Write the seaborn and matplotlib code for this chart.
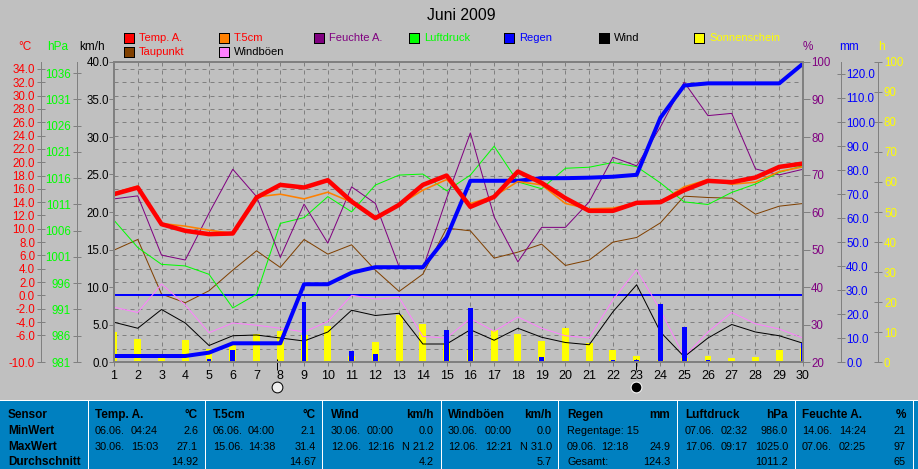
import matplotlib
matplotlib.use('Agg')
import matplotlib.pyplot as plt
import seaborn as sns
from matplotlib.patches import Rectangle

W, H = 918, 469

DAYS = list(range(1, 31))
TEMP = [15.2, 16.2, 10.7, 9.7, 9.2, 9.3, 14.7, 16.6, 16.2, 17.3, 14.1, 11.6, 13.6, 16.6, 18.0,
        13.3, 14.8, 18.6, 16.9, 14.6, 12.7, 12.7, 13.9, 14.0, 15.8, 17.2, 17.0, 17.7, 19.3, 19.8]
SOIL = [15.4, 16.4, 10.8, 10.4, 9.8, 9.3, 14.8, 15.2, 14.5, 15.5, 14.0, 11.8, 13.6, 15.8, 17.4,
        13.8, 14.9, 17.1, 16.6, 13.8, 13.0, 13.1, 13.9, 14.1, 16.3, 17.4, 16.7, 17.0, 18.6, 19.3]
DEWPOINT = [6.8, 8.4, 0.2, -1.1, 0.7, 3.8, 6.7, 4.2, 8.4, 6.2, 7.6, 3.8, 0.6, 3.2, 10.1,
            9.7, 5.6, 6.5, 7.7, 4.5, 5.3, 8.0, 8.7, 10.9, 14.9, 14.7, 14.6, 12.2, 13.4, 13.8]
HUMIDITY = [63.5, 64.3, 48.5, 47.2, 59.7, 71.4, 64.1, 47.9, 62.1, 51.7, 66.7, 62.3, 45.4, 44.9, 63.7,
            81.1, 58.7, 46.7, 55.9, 55.9, 62.7, 74.6, 72.3, 82.7, 94.6, 85.7, 86.3, 71.5, 69.9, 71.4]
PRESSURE = [1008.0, 1002.8, 999.6, 999.3, 997.7, 991.3, 993.9, 1007.4, 1008.5, 1012.5,
            1009.6, 1014.7, 1016.6, 1016.8, 1013.6, 1016.6, 1022.1, 1015.3, 1014.0, 1017.9,
            1018.1, 1019.0, 1018.2, 1015.1, 1011.5, 1011.0, 1013.3, 1014.9, 1017.1, 1018.4]
WIND = [5.3, 4.5, 7.0, 5.2, 2.2, 3.5, 3.6, 3.2, 2.8, 4.0, 6.9, 6.2, 6.5, 2.4, 2.4,
        4.3, 2.9, 4.5, 3.3, 2.6, 2.3, 6.7, 10.3, 4.0, 0.7, 3.2, 5.0, 4.0, 3.5, 2.5]
GUST = [7.3, 6.6, 10.4, 7.6, 3.9, 5.2, 4.9, 4.5, 4.0, 5.4, 8.9, 8.4, 8.6, 3.4, 3.2,
        5.8, 4.1, 6.0, 4.5, 3.5, 3.2, 8.3, 12.3, 6.9, 0.7, 4.0, 6.6, 5.1, 4.4, 3.2]
RAIN_SUM = [2.5, 2.5, 2.5, 2.5, 3.9, 7.8, 7.8, 7.8, 32.4, 32.4, 37.2, 39.5, 39.5, 39.5, 52.0,
            75.5, 75.5, 75.5, 76.6, 76.6, 76.8, 77.2, 78.0, 101.8, 115.2, 116.1, 116.1, 116.1, 116.1, 124.3]
RAIN_DAY = [0.3, 0, 0, 0, 1.2, 4.8, 0, 0, 25.0, 0, 4.5, 3.3, 0.3, 0.3, 13.5,
            22.4, 0.3, 0.3, 2.2, 0.3, 0.3, 1.0, 1.0, 24.0, 14.4, 1.0, 0, 0, 0, 8.0]
SUN = [10.1, 7.6, 1.6, 7.3, 4.2, 6.2, 9.3, 10.3, 9.0, 12.0, 2.0, 6.6, 15.7, 12.7, 6.3,
       4.0, 10.7, 9.3, 7.0, 11.2, 6.2, 4.0, 2.0, 0.7, 1.3, 2.0, 1.2, 1.6, 4.0, 4.7]
BLUE_LEVEL = 8.93  # the flat blue line, on the km/h scale
MOON_DAYS = [7.87, 22.95]

TEMP_TICKS = [-10, -6, -4, -2, 0, 2, 4, 6, 8, 10, 12, 14, 16, 18, 20, 22, 24, 26, 28, 30, 32, 34]
HPA_TICKS = [981, 986, 991, 996, 1001, 1006, 1011, 1016, 1021, 1026, 1031, 1036]
KMH_TICKS = [0, 5, 10, 15, 20, 25, 30, 35, 40]
PCT_TICKS = [20, 30, 40, 50, 60, 70, 80, 90, 100]
MM_TICKS = [0, 10, 20, 30, 40, 50, 60, 70, 80, 90, 100, 110, 120]
H_TICKS = [0, 10, 20, 30, 40, 50, 60, 70, 80, 90, 100]

LEGEND_LABELS = ['Temp. A.', 'T.5cm', 'Feuchte A.', 'Luftdruck', 'Regen', 'Wind', 'Sonnenschein', 'Taupunkt', 'Windböen']
LEGEND_FILL = ['#FF0000', '#FF8000', '#800080', '#00FF00', '#0000FF', '#000000', '#FFFF00', '#804000', '#FF80FF']
LEGEND_TEXT = ['#FF0000', '#FF0000', '#800080', '#00FF00', '#0000FF', '#000000', '#FFFF00', '#FF0000', '#000000']

TABLE_TITLES = ['Temp. A.', 'T.5cm', 'Wind', 'Windböen', 'Regen', 'Luftdruck', 'Feuchte A.']
TABLE_UNITS = ['°C', '°C', 'km/h', 'km/h', 'mm', 'hPa', '%']
MIN_DATES = ['06.06.', '06.06.', '30.06.', '30.06.', 'Regentage: 15', '07.06.', '14.06.']
MIN_TIMES = ['04:24', '04:00', '00:00', '00:00', '', '02:32', '14:24']
MIN_VALUES = ['2.6', '2.1', '0.0', '0.0', '', '986.0', '21']
MAX_DATES = ['30.06.', '15.06.', '12.06.', '12.06.', '09.06.', '17.06.', '07.06.']
MAX_TIMES = ['15:03', '14:38', '12:16', '12:21', '12:18', '09:17', '02:25']
MAX_VALUES = ['27.1', '31.4', 'N 21.2', 'N 31.0', '24.9', '1025.0', '97']
AVG_LABELS = ['', '', '', '', 'Gesamt:', '', '']
AVG_VALUES = ['14.92', '14.67', '4.2', '5.7', '124.3', '1011.2', '65']
ROW_NAMES = ['Sensor', 'MinWert', 'MaxWert', 'Durchschnitt']

BG = '#C0C0C0'
GREY = '#808080'
PX = 0.72  # one pixel in points at dpi 100

sns.set_theme(style='ticks', rc={'patch.antialiased': False})
plt.rcParams['font.family'] = ['Liberation Sans', 'DejaVu Sans']
plt.rcParams['font.size'] = 8


def fx(x):
    return x / W


def fy(y):
    return 1 - y / H


def scale_axis(a, ylim, ticks, labels, color, side, px_out, tick_len=8, tick_dir='inout', pad=2):
    a.set_ylim(*ylim)
    for s in a.spines.values():
        s.set_visible(False)
    a.yaxis.set_ticks_position(side)
    a.set_yticks(ticks, labels=labels)
    a.tick_params(axis='y', which='major', direction=tick_dir, length=tick_len * PX, width=PX,
                  color=GREY, labelcolor=color, labelsize=8.3, pad=pad * PX)
    if px_out is not None:
        a.spines[side].set_visible(True)
        a.spines[side].set_position(('outward', px_out * PX))
        a.spines[side].set_color(GREY)
        a.spines[side].set_linewidth(PX)


def hidden_axis(a, ylim):
    a.set_ylim(*ylim)
    a.yaxis.set_visible(False)
    for s in a.spines.values():
        s.set_visible(False)


def line(a, y, color, lw=1.0):
    sns.lineplot(x=DAYS, y=y, color=color, linewidth=lw * PX, errorbar=None, legend=False, ax=a)


fig = plt.figure(figsize=(W / 100, H / 100), dpi=100, facecolor=BG)
ax = fig.add_axes([fx(114), fy(362), fx(803 - 114), (362 - 62) / H], facecolor=BG)

TEMP_LIM = (-10, 35.05)
HPA_LIM = (981, 1038.14)
KMH_LIM = (0, 40)
PCT_LIM = (20, 100)
MM_LIM = (0, 125)
H_LIM = (0, 100)

# layers from bottom to top
ax_sun = ax.twinx()
ax_wind = ax.twinx()
ax_hpa = ax.twinx()
ax_pct = ax.twinx()
ax_mm = ax.twinx()
ax_top = ax.twinx()
for z, a in enumerate([ax, ax_sun, ax_wind, ax_hpa, ax_pct, ax_mm, ax_top]):
    a.set_zorder(z)

line(ax, DEWPOINT, '#804000')
sns.barplot(x=DAYS, y=SUN, native_scale=True, width=0.29, color='#FFFF00', saturation=1, linewidth=0, ax=ax_sun)
ax_wind.axhline(BLUE_LEVEL, color='#0000FF', linewidth=2 * PX)
line(ax_wind, GUST, '#FF80FF')
line(ax_wind, WIND, '#000000')
line(ax_hpa, PRESSURE, '#00FF00')
line(ax_pct, HUMIDITY, '#800080')
sns.barplot(x=DAYS, y=RAIN_DAY, native_scale=True, width=0.2, color='#0000FF', saturation=1, linewidth=0, ax=ax_mm)
line(ax_mm, RAIN_SUM, '#0000FF', lw=4)
line(ax_top, SOIL, '#FF8000', lw=1.6)
line(ax_top, TEMP, '#FF0000', lw=4.5)

ax.set_xlim(1, 30)
ax.set_xticks(DAYS, labels=[str(d) for d in DAYS])
ax.tick_params(axis='x', direction='out', length=4 * PX, width=PX, color=GREY, labelcolor='black', labelsize=9, pad=4 * PX)
ax.grid(True, axis='x', color=GREY, linewidth=PX, linestyle=(0, (4, 4)))
ax.grid(True, which='major', axis='y', color=GREY, linewidth=PX, linestyle=(0, (4, 4)))
ax.set_yticks(list(range(-10, 35, 2)), minor=True)
ax.grid(True, which='minor', axis='y', color=GREY, linewidth=PX, linestyle=(0, (4, 4)))
ax.tick_params(axis='y', which='minor', length=0)

scale_axis(ax, TEMP_LIM, TEMP_TICKS, [f'{v:.1f}' for v in TEMP_TICKS], '#FF0000', 'left', 73)
scale_axis(ax_hpa, HPA_LIM, HPA_TICKS, [str(v) for v in HPA_TICKS], '#00FF00', 'left', 37)
scale_axis(ax_wind, KMH_LIM, KMH_TICKS, [f'{v:.1f}' for v in KMH_TICKS], '#000000', 'left', None,
           tick_len=5, tick_dir='out', pad=0)
scale_axis(ax_pct, PCT_LIM, PCT_TICKS, [str(v) for v in PCT_TICKS], '#800080', 'right', None,
           tick_len=7, tick_dir='out', pad=1)
scale_axis(ax_mm, MM_LIM, MM_TICKS, [f'{v:.1f}' for v in MM_TICKS], '#0000FF', 'right', 38, pad=1)
scale_axis(ax_sun, H_LIM, H_TICKS, [str(v) for v in H_TICKS], '#FFFF00', 'right', 75)
hidden_axis(ax_top, TEMP_LIM)
for a in [ax_sun, ax_wind, ax_hpa, ax_pct, ax_mm, ax_top]:
    a.set_ylabel('')
    a.set_xlabel('')
ax.set_xlim(1, 30)

for s in ax_top.spines.values():
    s.set_visible(True)
    s.set_color(GREY)
    s.set_linewidth(2 * PX)

# moon phases under the day axis
ax_wind.vlines(MOON_DAYS, -1.07, 0.4, color='black', linewidth=PX, clip_on=False)
ax_wind.scatter(MOON_DAYS[0], -3.33, s=60, color='#EEEEEE', edgecolors='black', linewidths=PX, clip_on=False)
ax_wind.scatter(MOON_DAYS[1], -3.33, s=60, color='black', edgecolors='white', linewidths=PX, clip_on=False)

fig.text(fx(461), fy(15), 'Juni 2009', ha='center', va='center', fontsize=11.3, color='#000000')

# unit captions above the scales
for x, label, color in [(25, '°C', '#FF0000'), (58, 'hPa', '#00FF00'), (92, 'km/h', '#000000'),
                        (808, '%', '#800080'), (849, 'mm', '#0000FF'), (881, 'h', '#FFFF00')]:
    fig.text(fx(x), fy(47), label, ha='center', va='center', fontsize=8.5, color=color)

# legend boxes
legend_x = [124, 219, 314, 409, 504, 599, 694, 124, 219]
legend_y = [38, 38, 38, 38, 38, 38, 38, 52, 52]
for x, y, label, fill, tc in zip(legend_x, legend_y, LEGEND_LABELS, LEGEND_FILL, LEGEND_TEXT):
    fig.add_artist(Rectangle((fx(x), fy(y + 5)), 10 / W, 10 / H, transform=fig.transFigure,
                             facecolor=fill, edgecolor='black', linewidth=PX))
    fig.text(fx(x + 15), fy(y), label, ha='left', va='center', fontsize=8, color=tc)

# table along the bottom
panel_left = [0, 89, 206, 323, 442, 559, 678, 796, 914]
panel_right = [88, 205, 322, 441, 558, 677, 795, 913, 918]
fig.add_artist(Rectangle((0, 0), 1, (H - 400) / H, transform=fig.transFigure, facecolor='white', linewidth=0))
for l, r in zip(panel_left, panel_right):
    fig.add_artist(Rectangle((fx(l), 0), (r - l) / W, (H - 401) / H, transform=fig.transFigure,
                             facecolor='#0080C0', linewidth=0))

row_y = [415, 431, 447, 462]
for y, name in zip(row_y, ROW_NAMES):
    fig.text(fx(8), fy(y), name, ha='left', va='center', fontsize=8.5, fontweight='bold', color='black')

col_left = [95, 213, 331, 448, 567, 685, 802]
col_time = [131, 248, 367, 485, 601, 721, 839]
col_right = [198, 316, 434, 552, 670, 788, 906]
for i in range(7):
    fig.text(fx(col_left[i]), fy(row_y[0]), TABLE_TITLES[i], ha='left', va='center', fontsize=8.5, fontweight='bold', color='black')
    fig.text(fx(col_right[i]), fy(row_y[0]), TABLE_UNITS[i], ha='right', va='center', fontsize=8.5, fontweight='bold', color='black')
    fig.text(fx(col_left[i]), fy(row_y[1]), MIN_DATES[i], ha='left', va='center', fontsize=7.8, color='black')
    fig.text(fx(col_time[i]), fy(row_y[1]), MIN_TIMES[i], ha='left', va='center', fontsize=7.8, color='black')
    fig.text(fx(col_right[i]), fy(row_y[1]), MIN_VALUES[i], ha='right', va='center', fontsize=7.8, color='black')
    fig.text(fx(col_left[i]), fy(row_y[2]), MAX_DATES[i], ha='left', va='center', fontsize=7.8, color='black')
    fig.text(fx(col_time[i]), fy(row_y[2]), MAX_TIMES[i], ha='left', va='center', fontsize=7.8, color='black')
    fig.text(fx(col_right[i]), fy(row_y[2]), MAX_VALUES[i], ha='right', va='center', fontsize=7.8, color='black')
    fig.text(fx(col_left[i]), fy(row_y[3]), AVG_LABELS[i], ha='left', va='center', fontsize=7.8, color='black')
    fig.text(fx(col_right[i]), fy(row_y[3]), AVG_VALUES[i], ha='right', va='center', fontsize=7.8, color='black')

fig.savefig('out.png', dpi=100, facecolor=BG)
plt.close(fig)
